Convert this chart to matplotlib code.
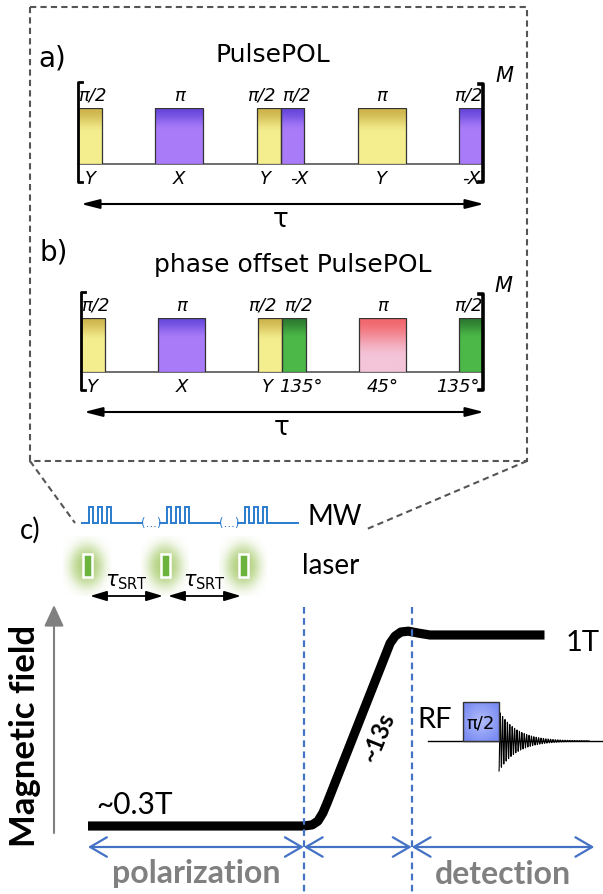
import numpy as np
import matplotlib
matplotlib.use("Agg")
import matplotlib.pyplot as plt
from matplotlib.patches import Rectangle, FancyArrowPatch
from matplotlib.transforms import blended_transform_factory
from matplotlib.colors import to_rgb

W, H = 603, 894

# PulsePOL block: pulse areas, where each pulse sits inside tau, and phases
pulse_angles = ["π/2", "π", "π/2", "π/2", "π", "π/2"]
pulse_rot = [0.5, 1.0, 0.5, 0.5, 1.0, 0.5]          # rotation, units of pi
pulse_anchor = [0.0, 0.25, 0.5, 0.5, 0.75, 1.0]     # position in units of tau
pulse_align = ["left", "center", "right", "left", "center", "right"]
phases_a = ["Y", "X", "Y", "-X", "Y", "-X"]
phases_b = ["Y", "X", "Y", "135°", "45°", "135°"]
pi_half_len = 0.059                                 # pi/2 duration, units of tau

# field cycle (time in s, field in T)
field_t = [0, 26.0, 27.0, 27.7, 28.3, 28.8, 36.4, 37.0, 37.7, 38.6, 39.8, 41.2, 55.0]
field_B = [0.3, 0.3, 0.304, 0.318, 0.348, 0.384, 0.970, 0.996, 1.011, 1.014, 1.007, 1.0, 1.0]
t_pol_end = 26.0
ramp_time = 13.0
t_det_end = 61.0

mw_blocks = 3
mw_spikes = 3

# top / bottom gradient colours per phase
phase_fill = {
    "Y": ("#ceb44c", "#f4ee8e", 0.45),
    "X": ("#6748dc", "#a97bf9", 0.40),
    "-X": ("#6748dc", "#a97bf9", 0.40),
    "135°": ("#2c7a2f", "#4cb848", 0.40),
    "45°": ("#f2666c", "#f4c4d8", 0.75),
}

fig = plt.figure(figsize=(W / 100, H / 100), dpi=100)
ax = fig.add_axes([0, 0, 1, 1])
ax.set_xlim(0, W)
ax.set_ylim(H, 0)
ax.set_autoscale_on(False)
ax.axis("off")


def px_axes(x0, x1, y_top, y_bot, zorder=2):
    a = fig.add_axes([x0 / W, 1 - y_bot / H, (x1 - x0) / W, (y_bot - y_top) / H])
    a.axis("off")
    a.set_zorder(zorder)
    a.patch.set_alpha(0)
    return a


def gradient(top, bottom, frac, n=80):
    s = np.linspace(0, 1, n)[:, None]
    w = np.clip(s / frac, 0, 1)
    w = w * w * (3 - 2 * w)
    c = (1 - w) * np.array(to_rgb(top)) + w * np.array(to_rgb(bottom))
    return c[:, None, :]


def arrow(a, p0, p1, style, color="black", lw=1.5, **kw):
    a.add_patch(FancyArrowPatch(p0, p1, arrowstyle=style, mutation_scale=1,
                                shrinkA=0, shrinkB=0, color=color, lw=lw,
                                clip_on=False, **kw))


# dashed frame around a) and b), and the zoom lines down to the MW train
frame = dict(color="#555555", lw=1.5, ls=(0, (3, 2)))
ax.add_patch(Rectangle((30, 7), 497, 454, fill=False, **frame))
ax.plot([30, 75], [461, 523], **frame)
ax.plot([527, 367], [461, 529], **frame)


def sequence(x0, x1, base, top, phases, letter, letter_xy, title, title_xy):
    sa = px_axes(x0, x1, top, base)
    sa.set_xlim(0, 1)
    sa.set_ylim(0, 1)
    sa.set_autoscale_on(False)
    px = blended_transform_factory(sa.transData, ax.transData)
    per_px = 1.0 / (x1 - x0)

    sa.plot([0, 1], [0, 0], color="#555555", lw=1.2, zorder=1, clip_on=False)

    starts, ends = [], []
    for rot, anc, al in zip(pulse_rot, pulse_anchor, pulse_align):
        d = rot / 0.5 * pi_half_len
        s = anc if al == "left" else (anc - d / 2 if al == "center" else anc - d)
        starts.append(s)
        ends.append(s + d)

    n = len(phases)
    for i, ph in enumerate(phases):
        c0, c1, frac = phase_fill[ph]
        sa.imshow(gradient(c0, c1, frac), extent=(starts[i], ends[i], 0, 1),
                  aspect="auto", interpolation="bilinear", zorder=2)
        sa.add_patch(Rectangle((starts[i], 0), ends[i] - starts[i], 1, fill=False,
                               ec="#333333", lw=0.9, zorder=3))

        prev_adj = i > 0 and abs(ends[i - 1] - starts[i]) < 1e-9
        next_adj = i < n - 1 and abs(ends[i] - starts[i + 1]) < 1e-9
        mid = (starts[i] + ends[i]) / 2
        if i == 0:
            tx, ha = starts[i], "left"
        elif i == n - 1:
            tx, ha = ends[i], "right"
        elif next_adj:
            tx, ha = ends[i] - 5 * per_px, "right"
        elif prev_adj:
            tx, ha = starts[i] + 2 * per_px, "left"
        else:
            tx, ha = mid, "center"
        sa.text(tx, top - 12, pulse_angles[i], transform=px, ha=ha, va="center",
                fontsize=13, style="italic", clip_on=False)

        if i == n - 1:
            bx, bha = ends[i] - 3 * per_px, "right"
        elif prev_adj:
            bx, bha = mid + 7 * per_px, "center"
        elif next_adj:
            bx, bha = mid - 3 * per_px, "center"
        else:
            bx, bha = mid, "center"
        sa.text(bx, base + 15, ph, transform=px, ha=bha, va="center",
                fontsize=13, style="italic", clip_on=False)

    # repetition brackets
    sa.plot([4 * per_px, 0, 0, 4 * per_px], [top - 26, top - 26, base + 18, base + 18],
            transform=px, color="black", lw=2, clip_on=False, zorder=4)
    sa.plot([1 - 4 * per_px, 1, 1, 1 - 4 * per_px], [top - 24, top - 24, base + 18, base + 18],
            transform=px, color="black", lw=2.6, clip_on=False, zorder=4)
    sa.text(1.052, top - 32, "M", transform=px, ha="center", va="center",
            fontsize=15, style="italic")

    arrow(ax, (x0 + 3, base + 40), (x1 + 1, base + 40), "<|-|>,head_length=11,head_width=2.8")
    sa.text(0.5, base + 56, "τ", transform=px, ha="center", va="center", fontsize=19)

    ax.text(letter_xy[0], letter_xy[1], letter, ha="left", va="center", fontsize=20)
    ax.text(title_xy[0], title_xy[1], title, ha="center", va="center", fontsize=18)


sequence(78, 483, 164, 108, phases_a, "a)", (38, 58), "PulsePOL", (273, 55))
sequence(81, 483, 372, 318, phases_b, "b)", (40, 253), "phase offset PulsePOL", (293, 265))

# c) MW train and laser pulses
mw_color = "#2b7bcd"
mw_base, mw_h = 523, 16
block0, period = 89, 78
spike_off = [0, 9, 18]
for b in range(mw_blocks):
    s = block0 + period * b
    xs, ys = [s - 7], [mw_base]
    for k in spike_off[:mw_spikes]:
        xs += [s + k, s + k, s + k + 4, s + k + 4]
        ys += [mw_base, mw_base - mw_h, mw_base - mw_h, mw_base]
    xs.append(s + 53)
    ys.append(mw_base)
    ax.plot(xs, ys, color=mw_color, lw=1.4, solid_joinstyle="miter")
    if b < mw_blocks - 1:
        ax.text(s + 62, mw_base + 1, "(...)", color=mw_color, fontsize=8.5,
                ha="center", va="center")
ax.text(308, 517, "MW", fontsize=20, family="Lato", va="center")
ax.text(302, 566, "laser", fontsize=20, family="Lato", va="center")

laser_x = [block0 + period * b - 2 for b in range(mw_blocks)]
gx, gy = np.meshgrid(np.linspace(-1, 1, 70), np.linspace(-1, 1, 70))
glow = np.zeros((70, 70, 4))
glow[..., :3] = to_rgb("#a6ca6a")
glow[..., 3] = 0.85 * np.exp(-2.6 * (gx ** 2 + gy ** 2) ** 1.5)
for cx in laser_x:
    ax.imshow(glow, extent=(cx - 24, cx + 24, 566 + 30, 566 - 30),
              aspect="auto", interpolation="bilinear", zorder=1)
    ax.add_patch(Rectangle((cx - 4.5, 554), 9, 23, fc="#6cb33e", ec="white",
                           lw=1.8, zorder=2))
for c0, c1 in zip(laser_x[:-1], laser_x[1:]):
    arrow(ax, (c0 + 3, 596), (c1 - 2, 596), "<|-|>,head_length=10,head_width=3", lw=1.3)
    ax.text((c0 + c1) / 2, 582, r"$\tau_{\mathrm{SRT}}$", fontsize=15,
            ha="center", va="center")

# c) field cycle
fa = px_axes(88, 88 + 8.3 * 55, 635, 826, zorder=3)
fa.set_xlim(0, 55)
fa.set_ylim(0.3, 1.0)
fa.set_autoscale_on(False)
fa.plot(field_t, field_B, color="black", lw=6.6, solid_capstyle="butt",
        solid_joinstyle="round", clip_on=False)

fx = blended_transform_factory(fa.transData, ax.transData)
blue = "#4472c4"
for t in [t_pol_end, t_pol_end + ramp_time]:
    fa.plot([t, t], [607, 894], transform=fx, color=blue, lw=1.6,
            ls=(0, (3, 2)), clip_on=False)

phase_edges = [0, t_pol_end, t_pol_end + ramp_time, t_det_end]
for t0, t1 in zip(phase_edges[:-1], phase_edges[1:]):
    fa.add_patch(FancyArrowPatch((t0, 847), (t1, 847), transform=fx,
                                 arrowstyle="<->,head_length=12,head_width=7",
                                 mutation_scale=1, shrinkA=0, shrinkB=0,
                                 color=blue, lw=1.6, clip_on=False))
fa.text(t_pol_end / 2, 873, "polarization", transform=fx, ha="center", va="center",
        fontsize=23, family="Lato", weight="bold", color="#808080")
fa.text((t_pol_end + ramp_time + t_det_end) / 2, 874, "detection", transform=fx,
        ha="center", va="center", fontsize=23, family="Lato", weight="bold",
        color="#808080")

ax.text(96, 805, "~0.3T", fontsize=21.5, family="Lato", ha="left", va="center")
ax.text(566, 643, "1T", fontsize=21, family="Lato", ha="left", va="center")
ax.text(378, 737, "~13s", fontsize=17, family="Lato", weight="bold", rotation=68,
        ha="center", va="center")

# field axis
arrow(ax, (54, 833), (54, 605), "-|>,head_length=13,head_width=6", color="#808080", lw=1.5)
ax.text(25, 736, "Magnetic field", rotation=90, fontsize=25, family="Lato",
        weight="bold", ha="center", va="center")

# RF pulse and FID
ax.plot([428, 603], [741, 741], color="black", lw=1)
ax.text(417, 720, "RF", fontsize=21, family="Lato", ha="left", va="center")
rx, ry = np.meshgrid(np.linspace(-1, 1, 40), np.linspace(-1, 1, 40))
rr = np.clip(np.sqrt(rx ** 2 + ry ** 2) / 1.2, 0, 1)[..., None]
rf_img = (1 - rr) * np.array(to_rgb("#b4befb")) + rr * np.array(to_rgb("#7a8cf2"))
ax.imshow(rf_img, extent=(463, 499, 741, 702), aspect="auto", interpolation="bilinear", zorder=2)
ax.add_patch(Rectangle((463, 702), 36, 39, fill=False, ec="#333333", lw=1, zorder=3))
ax.text(481, 723, "π/2", fontsize=13, ha="center", va="center", zorder=4)

fid_T2 = 18.0      # decay length of the FID envelope
fid_period = 2.4   # oscillation period
u = np.linspace(0, 90, 2400)
ax.plot(499 + u, 741 + 30 * np.exp(-u / fid_T2) * np.cos(2 * np.pi * u / fid_period),
        color="black", lw=0.8)

ax.text(20, 530, "c)", fontsize=20, family="Lato", ha="left", va="center")

fig.savefig("out.png", dpi=100)
